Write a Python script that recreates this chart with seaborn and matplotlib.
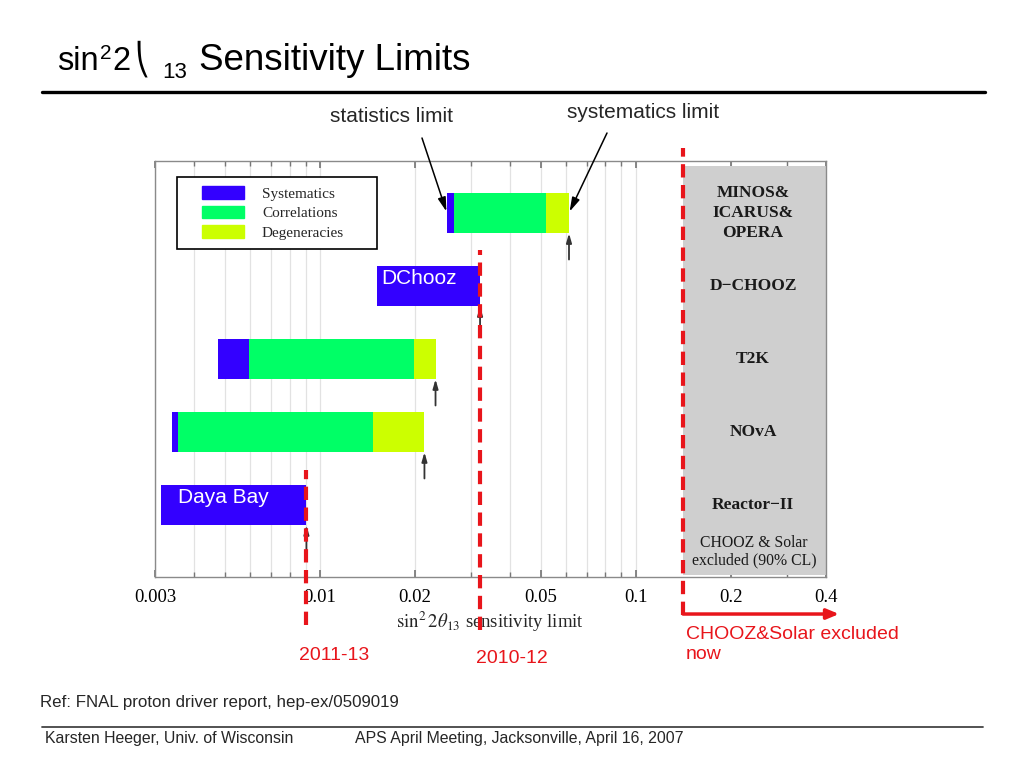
#-------------------------------------------------------------------------------------------------------------
# Imports
#-------------------------------------------------------------------------------------------------------------

import matplotlib
matplotlib.use('Agg')
import matplotlib.pyplot as plt
import matplotlib.ticker as mticker
from matplotlib.lines import Line2D
from matplotlib.patches import Patch, Rectangle
from matplotlib.legend_handler import HandlerPatch
import seaborn as sns
import numpy as np

#-------------------------------------------------------------------------------------------------------------
# Data
#-------------------------------------------------------------------------------------------------------------

experiments = ['MINOS&\nICARUS&\nOPERA', 'D\u2212CHOOZ', 'T2K', 'NOvA', 'Reactor\u2212II']
systematics_from = [0.0252, 0.0151, 0.00475, 0.00340, 0.00313]
correlations_from = [0.0265, 0.0321, 0.00595, 0.00354, 0.00905]
degeneracies_from = [0.0519, 0.0321, 0.0199, 0.0147, 0.00905]
sensitivity_limit = [0.0614, 0.0321, 0.0232, 0.0214, 0.00905]
components = ['Systematics', 'Correlations', 'Degeneracies']

overlay_rows = [1, 4]
overlay_names = ['DChooz', 'Daya Bay']

milestone_x = [0.00905, 0.0321]
milestone_labels = ['2011-13', '2010-12']
chooz_excluded = 0.141
excluded_label = 'CHOOZ&Solar excluded\nnow'

major_ticks = [0.003, 0.01, 0.02, 0.05, 0.1, 0.2, 0.4]
tick_labels = ['0.003', '0.01', '0.02', '0.05', '0.1', '0.2', '0.4']

#-------------------------------------------------------------------------------------------------------------
# Constants
#-------------------------------------------------------------------------------------------------------------

W, H = 1024, 768
RED = '#e8151b'
SERIF = 'Liberation Serif'
SANS = 'Liberation Sans'
palette = sns.color_palette(['#3300ff', '#00ff66', '#ccff00'])

sns.set_theme(style='white')
plt.rcParams['font.family'] = [SANS, 'DejaVu Sans']
plt.rcParams['mathtext.fontset'] = 'stix'


def px(x, y):
    # slide pixel (from top-left) -> figure fraction
    return x / W, 1 - y / H


def text_run(fig, x, baseline, pieces):
    # lay out pieces of text one after another (used for the slide title)
    renderer = fig.canvas.get_renderer()
    for s, size, rise, fam, gap in pieces:
        t = fig.text(*px(x, baseline - rise), s, fontsize=size, family=fam, va='baseline', color='black')
        x += t.get_window_extent(renderer).width + gap


def inset_patch(legend, orig_handle, xdescent, ydescent, width, height, fontsize):
    # legend swatch pushed a little to the right, like the original key
    shift = 11
    return Rectangle((-xdescent + shift, -ydescent), width - shift, height)


#-------------------------------------------------------------------------------------------------------------
# Figure
#-------------------------------------------------------------------------------------------------------------

fig = plt.figure(figsize=(W / 100, H / 100), dpi=100)
ax = fig.add_axes([155 / W, 1 - 577 / H, 671 / W, 416 / H])

rows = np.arange(len(experiments))
bounds = [systematics_from, correlations_from, degeneracies_from, sensitivity_limit]
for i, name in enumerate(components):
    lo = np.array(bounds[i])
    hi = np.array(bounds[i + 1])
    ax.barh(rows, hi - lo, left=lo, height=0.55, color=palette[i], label=name, zorder=3, linewidth=0)

# small arrows under the end of every bar
for r, lim in zip(rows, sensitivity_limit):
    ax.annotate('', xy=(lim, r + 0.28), xytext=(lim, r + 0.64),
                arrowprops=dict(arrowstyle='-|>,head_length=0.45,head_width=0.13', color='#333333',
                                lw=1.3, shrinkA=0, shrinkB=0), zorder=4)

# overlay labels written on the slide
for r, name, off in zip(overlay_rows, overlay_names, [(5, 7), (17, 7)]):
    ax.annotate(name, xy=(systematics_from[r], r), xytext=off, textcoords='offset pixels',
                color='white', fontsize=15, family=SANS, ha='left', va='center', zorder=5)

# excluded region and experiment names
ax.axvspan(chooz_excluded, 0.4, ymin=0.005, ymax=0.988, color='#cfcfcf', zorder=2, linewidth=0)
for r, name in zip(rows, experiments):
    ax.text(0.235, r, name, ha='center', va='center', family=SERIF, fontsize=12.5,
            weight='bold', linespacing=1.35, color='#1a1a1a', zorder=4)
ax.text(0.237, 4.64, 'CHOOZ & Solar\nexcluded (90% CL)', ha='center', va='center', family=SERIF,
        fontsize=11.3, linespacing=1.1, color='#1a1a1a', zorder=4)

# axes styling
ax.set_xscale('log')
ax.set_xlim(0.003, 0.4)
ax.set_ylim(4.99, -0.71)
ax.xaxis.set_major_locator(mticker.FixedLocator(major_ticks))
ax.xaxis.set_major_formatter(mticker.FixedFormatter(tick_labels))
ax.xaxis.set_minor_locator(mticker.LogLocator(base=10, subs=np.arange(1, 10)))
ax.xaxis.set_minor_formatter(mticker.NullFormatter())
ax.set_yticks([])
ax.grid(True, which='both', axis='x', color='#e2e2e2', linewidth=0.9)
ax.set_axisbelow(True)
ax.tick_params(axis='x', which='both', direction='in', top=True, bottom=True, colors='#777777',
               labelcolor='black', labelsize=13.5, pad=9)
ax.tick_params(axis='x', which='major', length=5)
ax.tick_params(axis='x', which='minor', length=3.5)
for label in ax.get_xticklabels():
    label.set_family(SERIF)
for spine in ax.spines.values():
    spine.set_color('#8a8a8a')
    spine.set_linewidth(1)
ax.set_xlabel(r'$\sin^2 2\theta_{13}$ sensitivity limit', family=SERIF, fontsize=13.5, labelpad=2)

legend = ax.legend(handles=[Patch(color=c, label=n) for c, n in zip(palette, components)],
                   loc='upper left', bbox_to_anchor=(0.033, 0.7846, 200 / 671, 0.177), mode='expand',
                   borderaxespad=0, fancybox=False, edgecolor='black', framealpha=1,
                   prop={'family': SERIF, 'size': 11}, handlelength=3.75, handleheight=0.9,
                   handletextpad=1.2, borderpad=0.6, labelspacing=0.32,
                   handler_map={Patch: HandlerPatch(patch_func=inset_patch)})
legend.get_frame().set_linewidth(1.2)
legend.set_zorder(6)

# red milestone lines (slide overlay)
dash = dict(color=RED, linewidth=3, linestyle=(0, (3.2, 1.8)), clip_on=False, zorder=7)
ax.axvline(milestone_x[0], ymin=-0.115, ymax=0.257, **dash)
ax.axvline(milestone_x[1], ymin=-0.127, ymax=0.786, **dash)
ax.axvline(chooz_excluded, ymin=-0.091, ymax=1.031, **dash)
for x, label, off, y in zip(milestone_x, milestone_labels, [-7, -4], [-0.1875, -0.195]):
    ax.annotate(label, xy=(x, y), xycoords=('data', 'axes fraction'), xytext=(off, 0),
                textcoords='offset pixels', color=RED, fontsize=14, ha='left', va='center',
                annotation_clip=False)
ax.annotate(excluded_label, xy=(chooz_excluded, -0.162), xycoords=('data', 'axes fraction'),
            xytext=(3, 0), textcoords='offset pixels', color=RED, fontsize=14, ha='left',
            va='center', linespacing=1.25, annotation_clip=False)
ax.annotate('', xy=(0.4 * 1.1, -0.089), xycoords=('data', 'axes fraction'),
            xytext=(chooz_excluded, -0.089), textcoords=('data', 'axes fraction'),
            arrowprops=dict(arrowstyle='-|>,head_length=0.6,head_width=0.25', color=RED, lw=2.5,
                            shrinkA=0, shrinkB=0), annotation_clip=False)

# statistics / systematics limit call-outs
arrow = dict(arrowstyle='-|>,head_length=0.7,head_width=0.2', color='black', lw=1.1, shrinkA=0, shrinkB=1)
ax.annotate('', xy=(systematics_from[0], 0), xytext=(422, H - 138), textcoords='figure pixels',
            arrowprops=arrow, annotation_clip=False)
ax.annotate('', xy=(sensitivity_limit[0], 0), xytext=(607, H - 133), textcoords='figure pixels',
            arrowprops=arrow, annotation_clip=False)
fig.text(*px(391, 117), 'statistics limit', ha='center', va='center', fontsize=15)
fig.text(*px(643, 113), 'systematics limit', ha='center', va='center', fontsize=15)

# slide title, rules and footer
text_run(fig, 57, 70, [('sin', 23.5, 0, SANS, 1),
                       ('2', 15, 11, SANS, 1),
                       ('2', 23.5, 0, SANS, 4),
                       ('\u239d', 22, 0, 'DejaVu Sans', 13),
                       ('13', 16, -8, SANS, 12),
                       ('Sensitivity Limits', 26.5, 0, SANS, 0)])
fig.add_artist(Line2D([42 / W, 985 / W], [1 - 92 / H] * 2, color='black', lw=2.4))
fig.add_artist(Line2D([42 / W, 983 / W], [1 - 727 / H] * 2, color='#444444', lw=1.3))
fig.text(*px(40, 703), 'Ref: FNAL proton driver report, hep-ex/0509019', va='center', fontsize=12.2)
fig.text(*px(45, 738), 'Karsten Heeger, Univ. of Wisconsin', va='center', fontsize=11.4)
fig.text(*px(355, 738), 'APS April Meeting, Jacksonville, April 16, 2007', va='center', fontsize=11.4)

fig.savefig('out.png', dpi=100, facecolor='white')
